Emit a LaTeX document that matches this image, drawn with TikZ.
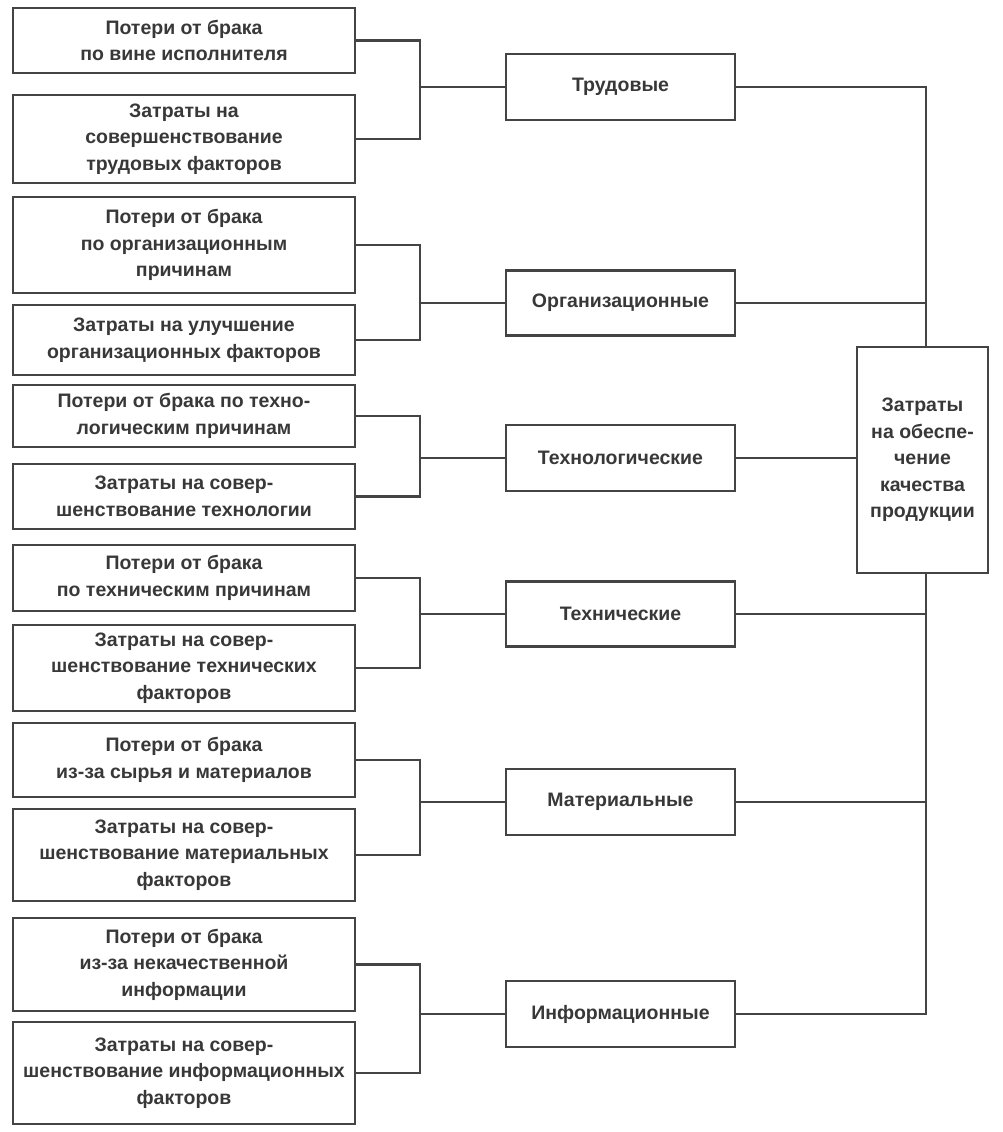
\documentclass[tikz,border=0pt]{standalone}
\usepackage{fontspec}
\setmainfont{Liberation Sans}
\definecolor{ink}{HTML}{383838}
\definecolor{wire}{HTML}{444444}
\begin{document}
\begin{tikzpicture}[x=1pt,y=-1pt,
  box/.style={draw=wire, line width=2.3pt, inner sep=0pt, align=center, text=ink,
    font={\fontsize{19.5pt}{26.5pt}\selectfont\bfseries}},
  lbox/.style={box, minimum width=342pt},
  mbox/.style={box, minimum width=229pt, minimum height=65pt},
  conn/.style={draw=wire, line width=2.3pt}]
\useasboundingbox[fill=white] (0,0) rectangle (1002,1132);
% left boxes
\node[lbox, minimum height=65pt] (l1) at (184,40.5) {Потери от брака\\по вине исполнителя};
\node[lbox, minimum height=88pt] (l2) at (184,139) {Затраты на\\совершенствование\\трудовых факторов};
\node[lbox, minimum height=96pt] (l3) at (184,245) {Потери от брака\\по организационным\\причинам};
\node[lbox, minimum height=70pt] (l4) at (184,340) {Затраты на улучшение\\организационных факторов};
\node[lbox, minimum height=62pt] (l5) at (184,416) {Потери от брака по техно-\\логическим причинам};
\node[lbox, minimum height=65pt] (l6) at (184,496.5) {Затраты на совер-\\шенствование технологии};
\node[lbox, minimum height=66pt] (l7) at (184,578) {Потери от брака\\по техническим причинам};
\node[lbox, minimum height=86pt] (l8) at (184,668) {Затраты на совер-\\шенствование технических\\факторов};
\node[lbox, minimum height=74pt] (l9) at (184,760) {Потери от брака\\из-за сырья и материалов};
\node[lbox, minimum height=92pt] (l10) at (184,855) {Затраты на совер-\\шенствование материальных\\факторов};
\node[lbox, minimum height=93pt] (l11) at (184,964.5) {Потери от брака\\из-за некачественной\\информации};
\node[lbox, minimum height=102pt] (l12) at (184,1073) {Затраты на совер-\\шенствование информационных\\факторов};
% middle boxes
\node[mbox, minimum height=66pt] (m1) at (620.5,87) {Трудовые};
\node[mbox] (m2) at (620.5,303) {Организационные};
\node[mbox, minimum height=66pt] (m3) at (620.5,458) {Технологические};
\node[mbox] (m4) at (620.5,614) {Технические};
\node[mbox, minimum height=66pt] (m5) at (620.5,802) {Материальные};
\node[mbox, minimum height=66pt] (m6) at (620.5,1014) {Информационные};
% right box
\node[box, minimum width=131pt, minimum height=226pt] (rb) at (922.5,460)
  {Затраты\\на обеспе-\\чение\\качества\\продукции};
% junctions
\coordinate (j1) at (420,87);
\coordinate (j2) at (420,303);
\coordinate (j3) at (420,458);
\coordinate (j4) at (420,614);
\coordinate (j5) at (420,802);
\coordinate (j6) at (420,1014);
\coordinate (rx) at (926,0);
% left connectors
\draw[conn] (l1.east) -| (j1) |- (l2.east);
\draw[conn] (j1) -- (m1.west);
\draw[conn] (l3.east) -| (j2) |- (l4.east);
\draw[conn] (j2) -- (m2.west);
\draw[conn] (l5.east) -| (j3) |- (l6.east);
\draw[conn] (j3) -- (m3.west);
\draw[conn] (l7.east) -| (j4) |- (l8.east);
\draw[conn] (j4) -- (m4.west);
\draw[conn] (l9.east) -| (j5) |- (l10.east);
\draw[conn] (j5) -- (m5.west);
\draw[conn] (l11.east) -| (j6) |- (l12.east);
\draw[conn] (j6) -- (m6.west);
% right connectors
\draw[conn] (m1.east) -| (rb.north -| rx);
\draw[conn] (m2.east) -- (m2.east -| rx);
\draw[conn] (m3.east) -- (m3.east -| rb.west);
\draw[conn] (m4.east) -- (m4.east -| rx);
\draw[conn] (m5.east) -- (m5.east -| rx);
\draw[conn] (m6.east) -| (rb.south -| rx);
\end{tikzpicture}
\end{document}
